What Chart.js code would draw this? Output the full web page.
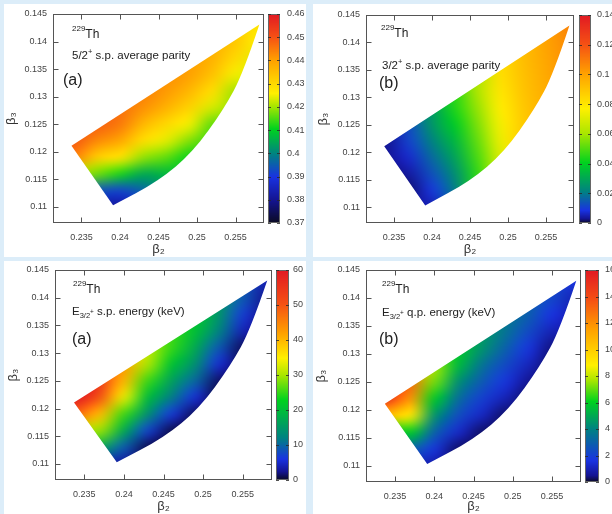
<!DOCTYPE html>
<html>
<head>
<meta charset="utf-8">
<script src="https://cdn.jsdelivr.net/npm/chart.js@4.4.1/dist/chart.umd.min.js"></script>
<style>
  body { margin: 0; width: 612px; height: 514px; overflow: hidden; position: relative; background: #dcedf9; }
  .panel { position: absolute; background: #fff; }
  canvas { display: block; }
</style>
</head>
<body>
<div class="panel" style="left:4px;top:4px;width:302px;height:253px"><canvas id="p1" width="302" height="253"></canvas></div>
<div class="panel" style="left:313px;top:4px;width:299px;height:253px"><canvas id="p2" width="299" height="253"></canvas></div>
<div class="panel" style="left:4px;top:261px;width:302px;height:253px"><canvas id="p3" width="302" height="253"></canvas></div>
<div class="panel" style="left:313px;top:261px;width:299px;height:253px"><canvas id="p4" width="299" height="253"></canvas></div>
<script>
const _ = null;

// grid nodes the colour values were read on (beta3 from top to bottom)
const beta2Nodes = [0.234, 0.237, 0.240, 0.243, 0.246, 0.249, 0.252, 0.255, 0.258];
const beta3Nodes = [0.143, 0.140, 0.137, 0.134, 0.131, 0.128, 0.125, 0.122, 0.119, 0.116, 0.113, 0.110];

// outline of the region covered by the calculation: corner, tip, then the curved lower edge down to the bottom vertex
const edgeBeta2 = [0.2337, 0.2581, 0.2560, 0.2535, 0.2495, 0.2450, 0.2391];
const edgeBeta3 = [0.1211, 0.1431, 0.1343, 0.1278, 0.1200, 0.1147, 0.1103];

const beta2Ticks = [0.235, 0.24, 0.245, 0.25, 0.255];
const beta3Ticks = [0.11, 0.115, 0.12, 0.125, 0.13, 0.135, 0.14, 0.145];

const parity52Ticks = [0.37, 0.38, 0.39, 0.4, 0.41, 0.42, 0.43, 0.44, 0.45, 0.46];
const parity32Ticks = [0, 0.02, 0.04, 0.06, 0.08, 0.1, 0.12, 0.14];
const energySPTicks = [0, 10, 20, 30, 40, 50, 60];
const energyQPTicks = [0, 2, 4, 6, 8, 10, 12, 14, 16];

// 5/2+ s.p. average parity
const parity52 = [
  [_, _, _, _, _, _, _, 0.432, 0.428],
  [_, _, _, _, _, _, 0.437, 0.433, 0.426],
  [_, _, _, _, _, 0.440, 0.437, 0.430, 0.424],
  [_, _, _, _, 0.442, 0.440, 0.434, 0.425, 0.423],
  [_, _, _, 0.444, 0.441, 0.436, 0.429, 0.420, _],
  [_, _, 0.446, 0.442, 0.437, 0.431, 0.423, 0.419, _],
  [0.449, 0.448, 0.445, 0.436, 0.430, 0.425, 0.416, 0.418, _],
  [0.449, 0.443, 0.439, 0.429, 0.424, 0.418, 0.414, _, _],
  [0.444, 0.432, 0.428, 0.419, 0.416, 0.411, _, _, _],
  [0.421, 0.417, 0.412, 0.405, 0.407, 0.409, _, _, _],
  [0.396, 0.394, 0.392, 0.396, 0.402, _, _, _, _],
  [_, 0.383, 0.381, 0.388, _, _, _, _, _]
];

// 3/2+ s.p. average parity
const parity32 = [
  [_, _, _, _, _, _, _, 0.100, 0.108],
  [_, _, _, _, _, _, 0.092, 0.100, 0.106],
  [_, _, _, _, _, 0.083, 0.092, 0.099, 0.105],
  [_, _, _, _, 0.062, 0.082, 0.091, 0.098, 0.104],
  [_, _, _, 0.046, 0.061, 0.080, 0.090, 0.097, _],
  [_, _, 0.028, 0.044, 0.058, 0.078, 0.089, 0.096, _],
  [0.003, 0.013, 0.026, 0.039, 0.055, 0.075, 0.088, 0.096, _],
  [0.003, 0.011, 0.021, 0.034, 0.052, 0.073, 0.087, _, _],
  [0.003, 0.007, 0.017, 0.029, 0.049, 0.070, _, _, _],
  [0.002, 0.004, 0.013, 0.024, 0.046, 0.069, _, _, _],
  [0.002, 0.002, 0.009, 0.020, 0.045, _, _, _, _],
  [_, 0.004, 0.005, 0.015, _, _, _, _, _]
];

// E(3/2+) s.p. energy, keV
const energySP = [
  [_, _, _, _, _, _, _, 8.5, 4],
  [_, _, _, _, _, _, 15, 8.9, 2.5],
  [_, _, _, _, _, 21, 14.6, 6.8, 2],
  [_, _, _, _, 25, 20.4, 12.1, 4.2, 1.5],
  [_, _, _, 31, 25, 17.3, 8.8, 1.3, _],
  [_, _, 42, 30.3, 20.9, 13.8, 5.4, 1, _],
  [60, 54, 40, 25.3, 16.2, 9.9, 1.5, 1, _],
  [60, 50, 33.5, 19.8, 11.6, 5.5, 0.5, _, _],
  [48, 39.5, 25.4, 13.9, 6.5, 1.2, _, _, _],
  [30, 29.3, 17.4, 7.2, 1, 0.5, _, _, _],
  [17, 17, 9, 1, 0.5, _, _, _, _],
  [_, 4, 3, 1, _, _, _, _, _]
];

// E(3/2+) q.p. energy, keV
const energyQP = [
  [_, _, _, _, _, _, _, 2.2, 1.6],
  [_, _, _, _, _, _, 3.0, 2.2, 1.0],
  [_, _, _, _, _, 3.7, 2.9, 1.6, 0.8],
  [_, _, _, _, 4.6, 3.6, 2.3, 1.0, 0.6],
  [_, _, _, 5.8, 4.5, 3.0, 1.7, 0.4, _],
  [_, _, 7.6, 5.5, 3.6, 2.3, 1.1, 0.3, _],
  [15, 13, 7.2, 4.4, 2.8, 1.7, 0.5, 0.3, _],
  [15, 11.8, 5.9, 3.4, 2.0, 1.0, 0.3, _, _],
  [10.5, 9.0, 4.5, 2.4, 1.2, 0.3, _, _, _],
  [5.5, 6.0, 3.0, 1.3, 0.3, 0.3, _, _, _],
  [3, 3, 1.7, 0.3, 0.3, _, _, _, _],
  [_, 1, 0.8, 0.3, _, _, _, _, _]
];

const paletteRGB = [[10,10,35],[20,20,145],[25,50,225],[0,130,130],[0,210,30],[170,230,0],[255,240,0],[255,160,0],[245,80,20],[225,25,35]];
const FONT = '"Liberation Sans", Arial, sans-serif';
Chart.defaults.font.family = FONT;
Chart.defaults.color = '#444';

function colorAt(stops, t) {
  t = Math.max(0, Math.min(1, t));
  for (let i = 1; i < stops.length; i++) {
    if (t <= stops[i]) {
      const f = (t - stops[i-1]) / (stops[i] - stops[i-1]);
      const a = paletteRGB[i-1], b = paletteRGB[i];
      return [a[0] + (b[0]-a[0])*f, a[1] + (b[1]-a[1])*f, a[2] + (b[2]-a[2])*f];
    }
  }
  return paletteRGB[paletteRGB.length - 1];
}

// empty nodes outside the region take their neighbours' colour so the smoothing at the clipped edge stays clean
function fillEmpty(grid) {
  let g = grid.map(r => r.slice());
  let missing = true;
  while (missing) {
    missing = false;
    const next = g.map(r => r.slice());
    for (let i = 0; i < g.length; i++) {
      for (let j = 0; j < g[i].length; j++) {
        if (g[i][j] !== null) continue;
        let s = 0, k = 0;
        for (let di = -1; di <= 1; di++) for (let dj = -1; dj <= 1; dj++) {
          const r = g[i+di];
          if (r && r[j+dj] !== undefined && r[j+dj] !== null) { s += r[j+dj]; k++; }
        }
        if (k) next[i][j] = s / k; else missing = true;
      }
    }
    g = next;
  }
  return g;
}

function drawRuns(ctx, x, y, runs) {
  runs.forEach(r => {
    ctx.font = r.size + 'px ' + FONT;
    ctx.fillText(r.text, x, y + (r.dy || 0));
    x += ctx.measureText(r.text).width;
  });
}

function makeHeat(cfg) {
  return {
    id: 'heat',
    beforeDatasetsDraw(chart) {
      const xs = chart.scales.x, ys = chart.scales.y;
      const g = fillEmpty(cfg.values);
      const rows = g.length, cols = g[0].length;
      const off = document.createElement('canvas');
      off.width = cols; off.height = rows;
      const octx = off.getContext('2d');
      const img = octx.createImageData(cols, rows);
      for (let i = 0; i < rows; i++) {
        for (let j = 0; j < cols; j++) {
          const c = colorAt(cfg.stops, (g[i][j] - cfg.min) / (cfg.max - cfg.min));
          const k = (i * cols + j) * 4;
          img.data[k] = c[0]; img.data[k+1] = c[1]; img.data[k+2] = c[2]; img.data[k+3] = 255;
        }
      }
      octx.putImageData(img, 0, 0);
      const hx = (beta2Nodes[1] - beta2Nodes[0]) / 2, hy = (beta3Nodes[0] - beta3Nodes[1]) / 2;
      const x0 = xs.getPixelForValue(beta2Nodes[0] - hx), x1 = xs.getPixelForValue(beta2Nodes[cols-1] + hx);
      const y0 = ys.getPixelForValue(beta3Nodes[0] + hy), y1 = ys.getPixelForValue(beta3Nodes[rows-1] - hy);
      const ctx = chart.ctx;
      const p = chart.getDatasetMeta(0).data;
      ctx.save();
      // straight top edge, smoothed lower edge, straight left edge
      ctx.beginPath();
      ctx.moveTo(p[0].x, p[0].y);
      ctx.lineTo(p[1].x, p[1].y);
      for (let i = 2; i < p.length - 1; i++) {
        ctx.quadraticCurveTo(p[i].x, p[i].y, (p[i].x + p[i+1].x) / 2, (p[i].y + p[i+1].y) / 2);
      }
      ctx.lineTo(p[p.length-1].x, p[p.length-1].y);
      ctx.closePath();
      ctx.clip();
      ctx.imageSmoothingEnabled = true;
      ctx.imageSmoothingQuality = 'high';
      ctx.drawImage(off, x0, y0, x1 - x0, y1 - y0);
      ctx.restore();
    },
    afterDraw(chart) {
      const ctx = chart.ctx, a = chart.chartArea;
      const xs = chart.scales.x, ys = chart.scales.y, cb = chart.scales.cb;
      ctx.save();
      // plot frame with inward ticks on all sides
      ctx.strokeStyle = '#555';
      ctx.lineWidth = 1;
      const L = Math.round(a.left) + 0.5, R = Math.round(a.right) - 0.5;
      const T = Math.round(a.top) + 0.5, B = Math.round(a.bottom) - 0.5;
      ctx.strokeRect(L, T, R - L, B - T);
      ctx.beginPath();
      beta2Ticks.forEach(v => {
        const px = Math.round(xs.getPixelForValue(v)) + 0.5;
        ctx.moveTo(px, B); ctx.lineTo(px, B - 5);
        ctx.moveTo(px, T); ctx.lineTo(px, T + 5);
      });
      beta3Ticks.forEach(v => {
        const py = Math.round(ys.getPixelForValue(v)) + 0.5;
        ctx.moveTo(L, py); ctx.lineTo(L + 5, py);
        ctx.moveTo(R, py); ctx.lineTo(R - 5, py);
      });
      ctx.stroke();

      // colour box
      const cx = Math.round(a.right) + cfg.cbGap;
      for (let py = Math.round(cb.top); py < Math.round(cb.bottom); py++) {
        const v = cb.getValueForPixel(py + 0.5);
        const c = colorAt(cfg.stops, (v - cfg.min) / (cfg.max - cfg.min));
        ctx.fillStyle = 'rgb(' + c.map(Math.round).join(',') + ')';
        ctx.fillRect(cx, py, cfg.cbW, 1);
      }
      ctx.strokeStyle = '#666';
      ctx.strokeRect(cx + 0.5, Math.round(cb.top) + 0.5, cfg.cbW - 1, Math.round(cb.bottom) - Math.round(cb.top) - 1);
      ctx.strokeStyle = 'rgba(40,40,40,0.8)';
      ctx.beginPath();
      cfg.cbTicks.forEach(v => {
        const py = Math.round(cb.getPixelForValue(v)) + 0.5;
        ctx.moveTo(cx, py); ctx.lineTo(cx + 3, py);
        ctx.moveTo(cx + cfg.cbW - 3, py); ctx.lineTo(cx + cfg.cbW, py);
      });
      ctx.stroke();

      // labels inside the plot
      ctx.fillStyle = '#222';
      ctx.textBaseline = 'alphabetic';
      const lx = a.left, ly = a.top;
      drawRuns(ctx, lx + cfg.thX, ly + cfg.thY, [{text: '229', size: 8, dy: -7}, {text: 'Th', size: 12}]);
      drawRuns(ctx, lx + cfg.lineX, ly + cfg.lineY, cfg.line);
      drawRuns(ctx, lx + cfg.tagX, ly + cfg.tagY, [{text: cfg.tag, size: 16}]);
      ctx.restore();
    }
  };
}

// invisible grid lines: only their tick length is used, to place the labels
function hiddenGrid(len) {
  return { display: true, drawOnChartArea: false, drawTicks: true, tickLength: len, color: 'rgba(0,0,0,0)' };
}

function makePanel(cfg) {
  new Chart(document.getElementById(cfg.id), {
    type: 'scatter',
    data: {
      datasets: [{
        data: edgeBeta2.map((b, i) => ({x: b, y: edgeBeta3[i]})),
        pointRadius: 0,
        showLine: false
      }]
    },
    options: {
      responsive: false,
      animation: false,
      events: [],
      layout: { padding: { top: cfg.top, left: 0, right: 0, bottom: 0 } },
      plugins: { legend: { display: false }, tooltip: { enabled: false } },
      scales: {
        x: {
          type: 'linear', min: 0.2313, max: 0.2587,
          afterFit: s => { s.height = cfg.H - cfg.bottom; },
          afterBuildTicks: s => { s.ticks = beta2Ticks.map(v => ({value: v})); },
          grid: hiddenGrid(9),
          border: { display: false },
          ticks: { autoSkip: false, maxRotation: 0, padding: 0, font: { size: 9 }, callback: v => String(v) },
          title: { display: true, text: 'β₂', font: { size: 13 }, color: '#333', padding: 0 }
        },
        y: {
          type: 'linear', min: 0.1071, max: 0.145,
          afterFit: s => { s.width = cfg.left; },
          afterBuildTicks: s => { s.ticks = beta3Ticks.map(v => ({value: v})); },
          grid: hiddenGrid(6),
          border: { display: false },
          ticks: { autoSkip: false, padding: 0, font: { size: 9 }, callback: v => String(v) },
          title: { display: true, text: 'β₃', font: { size: 13 }, color: '#333', padding: { top: cfg.yTitlePad, bottom: 0 } }
        },
        cb: {
          type: 'linear', position: 'right', min: cfg.min, max: cfg.max,
          afterFit: s => { s.width = cfg.W - cfg.right; },
          afterBuildTicks: s => { s.ticks = cfg.cbTicks.map(v => ({value: v})); },
          grid: hiddenGrid(cfg.cbPad),
          border: { display: false },
          ticks: { autoSkip: false, padding: 0, font: { size: 9 }, callback: v => String(v) }
        }
      }
    },
    plugins: [makeHeat(cfg)]
  });
}

makePanel({
  id: 'p1', W: 302, H: 253, left: 49, right: 260, top: 10, bottom: 219,
  cbGap: 4, cbW: 12, cbPad: 23, yTitlePad: 0,
  values: parity52, min: 0.37, max: 0.46, cbTicks: parity52Ticks,
  stops: [0, 0.11, 0.22, 0.33, 0.45, 0.56, 0.62, 0.78, 0.89, 1],
  thX: 19, thY: 24, lineX: 19, lineY: 45, tagX: 10, tagY: 71, tag: '(a)',
  line: [{text: '5/2', size: 11.5}, {text: '+', size: 7.5, dy: -5}, {text: ' s.p. average parity', size: 11.5}]
});
makePanel({
  id: 'p2', W: 299, H: 253, left: 53, right: 261, top: 11, bottom: 219,
  cbGap: 5, cbW: 12, cbPad: 23, yTitlePad: 3,
  values: parity32, min: 0, max: 0.14, cbTicks: parity32Ticks,
  stops: [0, 0.02, 0.06, 0.15, 0.29, 0.43, 0.55, 0.72, 0.86, 1],
  thX: 15, thY: 22, lineX: 16, lineY: 54, tagX: 13, tagY: 73, tag: '(b)',
  line: [{text: '3/2', size: 11.5}, {text: '+', size: 7.5, dy: -5}, {text: ' s.p. average parity', size: 11.5}]
});
makePanel({
  id: 'p3', W: 302, H: 253, left: 51, right: 268, top: 9, bottom: 219,
  cbGap: 4, cbW: 13, cbPad: 21, yTitlePad: 1.5,
  values: energySP, min: 0, max: 60, cbTicks: energySPTicks,
  stops: [0, 0.04, 0.10, 0.20, 0.38, 0.50, 0.58, 0.70, 0.84, 1],
  thX: 18, thY: 23, lineX: 17, lineY: 45, tagX: 17, tagY: 74, tag: '(a)',
  line: [{text: 'E', size: 11.5}, {text: '3/2', size: 7.5, dy: 3}, {text: '+', size: 6.5, dy: -1}, {text: ' s.p. energy (keV)', size: 11.5}]
});
makePanel({
  id: 'p4', W: 299, H: 253, left: 53, right: 268, top: 9, bottom: 221,
  cbGap: 4, cbW: 14, cbPad: 24, yTitlePad: 1,
  values: energyQP, min: 0, max: 16, cbTicks: energyQPTicks,
  stops: [0, 0.03, 0.10, 0.25, 0.38, 0.48, 0.55, 0.72, 0.86, 1],
  thX: 16, thY: 23, lineX: 16, lineY: 46, tagX: 13, tagY: 74, tag: '(b)',
  line: [{text: 'E', size: 11.5}, {text: '3/2', size: 7.5, dy: 3}, {text: '+', size: 6.5, dy: -1}, {text: ' q.p. energy (keV)', size: 11.5}]
});
</script>
</body>
</html>
